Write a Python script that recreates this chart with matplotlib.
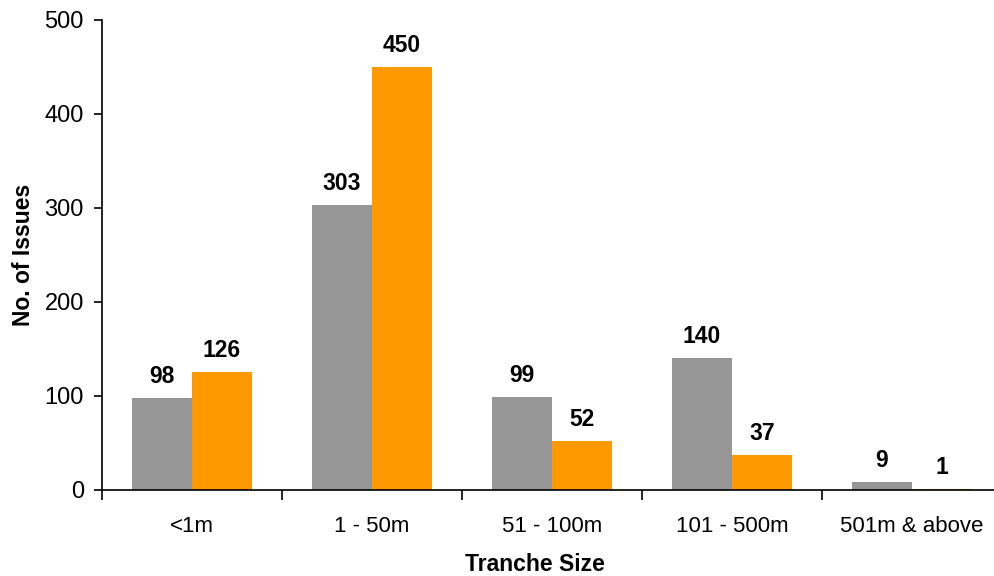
import matplotlib
matplotlib.use("Agg")
import matplotlib.pyplot as plt
import numpy as np

categories = ["<1m", "1 - 50m", "51 - 100m", "101 - 500m", "501m & above"]
series_a = [98, 303, 99, 140, 9]
series_b = [126, 450, 52, 37, 1]
yticks = [0, 100, 200, 300, 400, 500]

plt.rcParams['font.family'] = ['Liberation Sans', 'DejaVu Sans']

W, H = 995, 576
fig = plt.figure(figsize=(W/100, H/100), dpi=100)
left = 102 / W
bottom = (H - 490) / H
top = (H - 20) / H
ax = fig.add_axes([left, bottom, 900 / W, top - bottom])

x = np.arange(len(categories))
w = 1/3
bars_a = ax.bar(x - w/2, series_a, width=w, color="#969696", linewidth=0)
bars_b = ax.bar(x + w/2, series_b, width=w, color="#FF9900", linewidth=0)

for bars, vals in ((bars_a, series_a), (bars_b, series_b)):
    for b, v in zip(bars, vals):
        ax.annotate(str(v), (b.get_x() + b.get_width()/2, v),
                    xytext=(0, 10), textcoords="offset pixels",
                    ha="center", va="bottom", fontsize=16.5, fontweight="bold")

ax.set_xlim(-0.5, 4.5)
ax.set_ylim(0, 500)
ax.set_yticks(yticks)
ax.set_yticklabels([str(t) for t in yticks], fontsize=17)
ax.set_xticks(np.arange(-0.5, 4.5, 1.0))
ax.set_xticklabels([])
ax.set_xticks(x, minor=True)
ax.set_xticklabels(categories, minor=True, fontsize=16)
ax.tick_params(axis='x', which='major', direction='out', length=7, width=1.2)
ax.tick_params(axis='x', which='minor', length=0, pad=19)
ax.tick_params(axis='y', direction='out', length=6, width=1.2, pad=7)

for s in ("top", "right"):
    ax.spines[s].set_visible(False)
for s in ("left", "bottom"):
    ax.spines[s].set_linewidth(1.2)

ax.set_xlabel("Tranche Size", fontsize=16.5, fontweight="bold")
ax.set_ylabel("No. of Issues", fontsize=16.5, fontweight="bold")
ax.xaxis.set_label_coords((535 - 102) / 900, -(553 - 490) / 470)
ax.yaxis.set_label_coords(-(102 - 35) / 900, 0.5)

fig.savefig("out.png", dpi=100)
